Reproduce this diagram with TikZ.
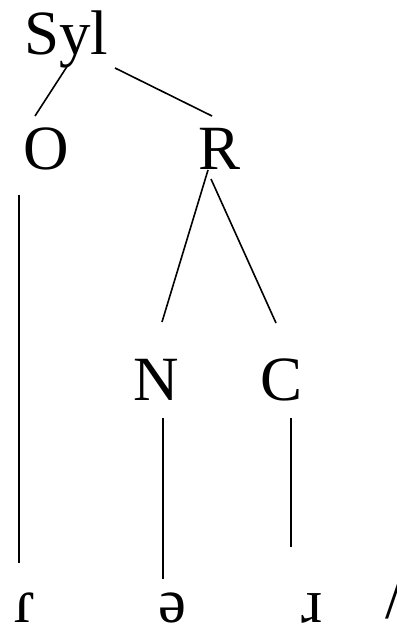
\documentclass[tikz,border=0pt]{standalone}
\usepackage{fontspec}
\setmainfont{Liberation Serif}
\begin{document}
\begin{tikzpicture}[x=1pt,y=-1pt,
  lab/.style={inner sep=0pt,anchor=base west,font=\fontsize{63}{63}\selectfont},
  seg/.style={lab,text depth=0pt},
  edge/.style={line width=1.6pt}]
\useasboundingbox (0,0) rectangle (396,628);
\node[lab] (syl) at (24,55) {Syl};
\node[lab] (o) at (23,170) {O};
\node[lab] (r) at (198,170) {R};
\node[lab] (n) at (133,400) {N};
\node[lab] (c) at (260,400) {C};
\node[seg] (s1) at (14,622) {ɾ};
\node[seg] (s2) at (158,622) {ə};
\node[seg] (s3) at (301,622) {ɹ};
\node[seg] (s4) at (385,618) {/};
% endpoints
\coordinate (sylA) at (68,65);
\coordinate (oTop) at (35,116);
\coordinate (sylB) at (115,68);
\coordinate (rTop) at (212,116);
\coordinate (rA) at (208,170);
\coordinate (nTop) at (162,322);
\coordinate (rB) at (211,179);
\coordinate (cTop) at (276,323);
\coordinate (oBot) at (19,195);
\coordinate (s1Top) at (19,563);
\coordinate (nBot) at (163,418);
\coordinate (s2Top) at (163,579);
\coordinate (cBot) at (291,418);
\coordinate (s3Top) at (291,547);
\draw[edge] (sylA) -- (oTop);
\draw[edge] (sylB) -- (rTop);
\draw[edge] (rA) -- (nTop);
\draw[edge] (rB) -- (cTop);
\draw[edge] (oBot) -- (s1Top);
\draw[edge] (nBot) -- (s2Top);
\draw[edge] (cBot) -- (s3Top);
\end{tikzpicture}
\end{document}
